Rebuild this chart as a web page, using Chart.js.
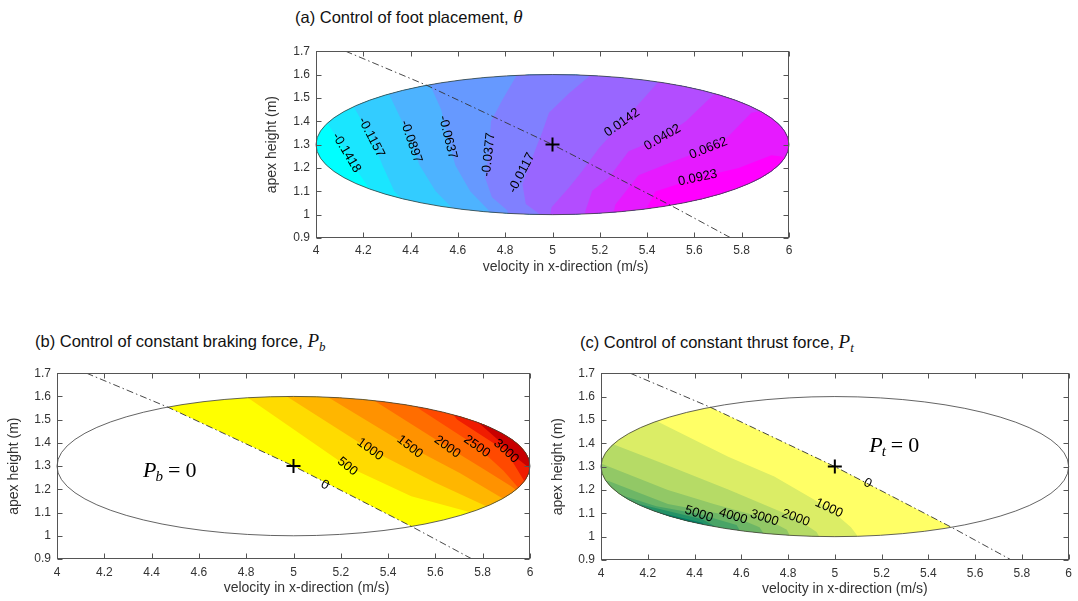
<!DOCTYPE html>
<html><head><meta charset="utf-8">
<script src="https://cdn.jsdelivr.net/npm/chart.js@4.4.1/dist/chart.umd.min.js"></script>
<style>
html,body{margin:0;padding:0;background:#fff;width:1078px;height:601px;overflow:hidden;font-family:"Liberation Sans",Arial,Helvetica,sans-serif;}
.box{position:absolute;}
.title{position:absolute;font-size:16.5px;line-height:20px;color:#111;white-space:nowrap;}
.m{font-family:"Liberation Serif","DejaVu Serif",serif;font-style:italic;font-size:19px;}
.m sub{font-size:13px;vertical-align:-4px;line-height:0;}
</style></head><body>
<div class="title" style="left:295px;top:7px">(a) Control of foot placement, <span class="m">θ</span></div>
<div class="title" style="left:35px;top:331px">(b) Control of constant braking force, <span class="m">P<sub>b</sub></span></div>
<div class="title" style="left:580px;top:332px">(c) Control of constant thrust force, <span class="m">P<sub>t</sub></span></div>
<div class="box" style="left:250px;top:38px"><canvas id="ca" width="553" height="245"></canvas></div>
<div class="box" style="left:0px;top:360px"><canvas id="cb" width="545" height="240"></canvas></div>
<div class="box" style="left:540px;top:360px"><canvas id="cc" width="538" height="240"></canvas></div>
<script>
// ---------- shared axes ----------
const xTickValues = [4, 4.2, 4.4, 4.6, 4.8, 5, 5.2, 5.4, 5.6, 5.8, 6];
const xTickLabels = ['4', '4.2', '4.4', '4.6', '4.8', '5', '5.2', '5.4', '5.6', '5.8', '6'];
const yTickValues = [0.9, 1.0, 1.1, 1.2, 1.3, 1.4, 1.5, 1.6, 1.7];
const yTickLabels = ['0.9', '1', '1.1', '1.2', '1.3', '1.4', '1.5', '1.6', '1.7'];
const xAxisTitle = 'velocity in x-direction (m/s)';
const yAxisTitle = 'apex height (m)';

// ---------- shared geometry (data units) ----------
const ellipseCenter = [5, 1.3];
const ellipseRadii = [1, 0.3];
const nominalPoint = [5, 1.3];
const boundaryLine = [[4.125, 1.70], [4.468, 1.554], [5.0, 1.30], [5.503, 1.038], [5.755, 0.90]];

// ---------- (a) foot placement theta ----------
const thetaLevels = ['-0.1418', '-0.1157', '-0.0897', '-0.0637', '-0.0377', '-0.0117', '0.0142', '0.0402', '0.0662', '0.0923'];
const thetaContours = [
  [[3.943, 1.50], [4.030, 1.42], [4.129, 1.265], [4.186, 1.17], [4.254, 1.07], [4.283, 0.95]],
  [[4.108, 1.56], [4.150, 1.478], [4.234, 1.331], [4.281, 1.212], [4.331, 1.10], [4.399, 1.03], [4.428, 0.95]],
  [[4.283, 1.58], [4.312, 1.509], [4.360, 1.408], [4.402, 1.313], [4.438, 1.212], [4.506, 1.10], [4.584, 1.02], [4.613, 0.95]],
  [[4.458, 1.62], [4.487, 1.546], [4.529, 1.45], [4.557, 1.331], [4.589, 1.212], [4.652, 1.10], [4.729, 1.02], [4.758, 0.95]],
  [[4.865, 1.66], [4.845, 1.591], [4.788, 1.492], [4.740, 1.40], [4.730, 1.257], [4.715, 1.158], [4.744, 1.074], [4.807, 1.02], [4.836, 0.95]],
  [[5.176, 1.65], [5.153, 1.591], [5.070, 1.52], [4.985, 1.436], [4.957, 1.355], [4.908, 1.228], [4.873, 1.13], [4.887, 1.046], [4.943, 1.004], [4.962, 0.95]],
  [[5.496, 1.62], [5.448, 1.569], [5.294, 1.394], [5.196, 1.284], [5.125, 1.186], [5.070, 1.116], [4.996, 1.032], [4.982, 0.95]],
  [[5.739, 1.56], [5.673, 1.506], [5.564, 1.40], [5.465, 1.331], [5.322, 1.271], [5.238, 1.158], [5.168, 1.102], [5.140, 1.018], [5.127, 0.95]],
  [[6.03, 1.47], [5.841, 1.436], [5.739, 1.33], [5.659, 1.284], [5.505, 1.225], [5.364, 1.169], [5.266, 1.043], [5.244, 0.95]],
  [[6.04, 1.24], [5.926, 1.254], [5.787, 1.20], [5.614, 1.158], [5.435, 1.099], [5.392, 1.015], [5.380, 0.95]]
];
const thetaLabelPos = [[4.129, 1.265], [4.234, 1.331], [4.402, 1.313], [4.557, 1.331], [4.730, 1.257], [4.870, 1.179], [5.294, 1.394], [5.465, 1.331], [5.659, 1.284], [5.614, 1.158]];
const thetaLabelAngle = [59, 63, 71, 76, -84, -63, -35, -30, -22, -12];
const thetaColors = ['#00ffff', '#1ae6ff', '#33ccff', '#4db3ff', '#6699ff', '#8080ff', '#9966ff', '#b34dff', '#cc33ff', '#e61aff', '#ff00ff'];

// ---------- (b) braking force Pb ----------
const brakeLevels = ['0', '500', '1000', '1500', '2000', '2500', '3000'];
const brakeContours = [
  [[4.709, 1.67], [4.804, 1.596], [5.228, 1.298], [5.498, 1.17], [5.752, 1.10], [5.839, 1.05]],
  [[4.894, 1.65], [4.972, 1.60], [5.324, 1.372], [5.596, 1.23], [5.820, 1.125], [5.888, 1.09]],
  [[5.080, 1.64], [5.157, 1.59], [5.492, 1.383], [5.703, 1.27], [5.878, 1.165], [5.937, 1.13]],
  [[5.274, 1.63], [5.352, 1.575], [5.650, 1.383], [5.800, 1.29], [5.917, 1.215], [5.966, 1.18]],
  [[5.469, 1.60], [5.537, 1.543], [5.775, 1.385], [5.888, 1.28], [5.956, 1.20], [6.02, 1.15]],
  [[5.644, 1.56], [5.693, 1.50], [5.899, 1.364], [5.937, 1.30], [5.985, 1.22], [6.05, 1.18]],
  [[5.720, 1.53], [5.785, 1.485], [5.880, 1.40], [5.950, 1.33], [6.05, 1.25]]
];
const brakeLabelPos = [[5.133, 1.218], [5.228, 1.298], [5.324, 1.372], [5.492, 1.383], [5.650, 1.383], [5.775, 1.385], [5.899, 1.364]];
const brakeLabelAngle = [28, 39, 36, 38, 36, 35, 43];
const brakeColors = ['#ffff00', '#ffdb00', '#ffb600', '#ff9200', '#ff6d00', '#ff4900', '#f01c00', '#c80000'];

// ---------- (c) thrust force Pt ----------
const thrustLevels = ['0', '1000', '2000', '3000', '4000', '5000'];
const thrustContours = [
  [[4.140, 1.56], [4.233, 1.497], [4.544, 1.342], [4.741, 1.258], [4.975, 1.122], [5.069, 1.04], [5.137, 0.95]],
  [[3.973, 1.44], [4.063, 1.391], [4.262, 1.314], [4.544, 1.202], [4.833, 1.080], [4.922, 1.02], [4.961, 0.95]],
  [[3.944, 1.34], [4.008, 1.31], [4.286, 1.20], [4.482, 1.14], [4.699, 1.080], [4.795, 1.03], [4.834, 0.95]],
  [[3.944, 1.26], [4.035, 1.237], [4.286, 1.14], [4.565, 1.087], [4.678, 1.04], [4.736, 0.95]],
  [[3.944, 1.21], [4.078, 1.181], [4.237, 1.13], [4.419, 1.097], [4.580, 1.05], [4.638, 0.95]],
  [[3.973, 1.17], [4.135, 1.146], [4.286, 1.11], [4.433, 1.075], [4.531, 1.02]],
  [[4.140, 1.12], [4.286, 1.095], [4.433, 1.06], [4.482, 1.0]]
];
const thrustLabelPos = [[5.140, 1.228], [4.975, 1.122], [4.833, 1.080], [4.699, 1.080], [4.565, 1.087], [4.419, 1.097]];
const thrustLabelAngle = [28, 25, 20, 18, 17, 18];
const thrustColors = ['#ffff66', '#dbed66', '#b6db66', '#92c866', '#6db666', '#49a466', '#249266', '#008066'];

// ---------- drawing ----------
const FONT = '"Liberation Sans", Arial, Helvetica, sans-serif';
const SERIF = '"Liberation Serif", "DejaVu Serif", serif';

function closeRight(pts) {
  const f = pts[0], l = pts[pts.length - 1];
  return pts.concat([[8, l[1]], [8, 2.6], [f[0], 2.6]]);
}
function closeLeft(pts) {
  const f = pts[0], l = pts[pts.length - 1];
  return pts.concat([[l[0], 0.3], [2, 0.3], [2, f[1]]]);
}
function bandDataset(poly, color) {
  return { data: poly.map(([x, y]) => ({ x, y })), bandFill: color, pointRadius: 0, showLine: false };
}

const contourPlugin = {
  id: 'contourPanel',
  beforeDatasetsDraw(chart) {
    const o = chart.options.plugins.contourPanel;
    const ctx = chart.ctx, xs = chart.scales.x, ys = chart.scales.y;
    const cx = xs.getPixelForValue(ellipseCenter[0]), cy = ys.getPixelForValue(ellipseCenter[1]);
    const rx = Math.abs(xs.getPixelForValue(ellipseCenter[0] + ellipseRadii[0]) - cx);
    const ry = Math.abs(ys.getPixelForValue(ellipseCenter[1] + ellipseRadii[1]) - cy);
    ctx.save();
    ctx.beginPath(); ctx.ellipse(cx, cy, rx, ry, 0, 0, Math.PI * 2);
    ctx.fillStyle = o.base; ctx.fill();
    ctx.clip();
    chart.data.datasets.forEach(ds => {
      if (!ds.bandFill) return;
      ctx.beginPath();
      ds.data.forEach((p, j) => {
        const px = xs.getPixelForValue(p.x), py = ys.getPixelForValue(p.y);
        j ? ctx.lineTo(px, py) : ctx.moveTo(px, py);
      });
      ctx.closePath();
      ctx.fillStyle = ds.bandFill;
      ctx.fill();
    });
    ctx.restore();
    ctx.save();
    ctx.beginPath(); ctx.ellipse(cx, cy, rx, ry, 0, 0, Math.PI * 2);
    ctx.strokeStyle = '#3c3c3c'; ctx.lineWidth = 0.8; ctx.stroke();
    ctx.restore();
  },
  afterDatasetsDraw(chart) {
    const o = chart.options.plugins.contourPanel;
    const ctx = chart.ctx, xs = chart.scales.x, ys = chart.scales.y;
    ctx.save();
    ctx.fillStyle = '#000';
    ctx.font = '13px ' + FONT;
    ctx.textAlign = 'center'; ctx.textBaseline = 'middle';
    o.labels.forEach((t, i) => {
      const px = xs.getPixelForValue(o.labelPos[i][0]), py = ys.getPixelForValue(o.labelPos[i][1]);
      ctx.save(); ctx.translate(px, py); ctx.rotate(o.labelAngle[i] * Math.PI / 180);
      ctx.fillText(t, 0, 0); ctx.restore();
    });
    if (o.note) {
      let px = xs.getPixelForValue(o.note.x), py = ys.getPixelForValue(o.note.y);
      ctx.textAlign = 'left'; ctx.textBaseline = 'alphabetic';
      ctx.font = 'italic 22px ' + SERIF; ctx.fillText('P', px, py);
      px += ctx.measureText('P').width - 1;
      ctx.font = 'italic 15px ' + SERIF; ctx.fillText(o.note.sub, px, py + 4);
      px += ctx.measureText(o.note.sub).width + 5;
      ctx.font = '22px ' + SERIF; ctx.fillText('=', px, py);
      px += ctx.measureText('=').width + 5;
      ctx.fillText('0', px, py);
    }
    ctx.restore();
  },
  afterDraw(chart) {
    const o = chart.options.plugins.contourPanel;
    const ctx = chart.ctx, xs = chart.scales.x, ys = chart.scales.y;
    const a = chart.chartArea;
    const L = Math.round(a.left) + 0.5, R = Math.round(a.right) - 0.5, T = Math.round(a.top) + 0.5, B = Math.round(a.bottom) - 0.5;
    ctx.save();
    ctx.strokeStyle = '#555'; ctx.lineWidth = 1;
    ctx.strokeRect(L, T, R - L, B - T);
    ctx.beginPath();
    xTickValues.forEach(v => {
      const px = Math.round(xs.getPixelForValue(v)) + 0.5;
      ctx.moveTo(px, B); ctx.lineTo(px, B - 5);
      ctx.moveTo(px, T); ctx.lineTo(px, T + 5);
    });
    yTickValues.forEach(v => {
      const py = Math.round(ys.getPixelForValue(v)) + 0.5;
      ctx.moveTo(L, py); ctx.lineTo(L + 5, py);
      ctx.moveTo(R, py); ctx.lineTo(R - 5, py);
    });
    ctx.stroke();
    // x-axis title
    ctx.fillStyle = '#333';
    ctx.font = '14px ' + FONT;
    ctx.textAlign = 'center'; ctx.textBaseline = 'middle';
    ctx.fillText(xAxisTitle, (a.left + a.right) / 2 + o.xtOff, a.bottom + 29);
    ctx.restore();
  }
};

function makeChart(id, f, bands, base, labels, labelPos, labelAngle, note) {
  const datasets = bands.map(b => bandDataset(b.poly, b.color));
  datasets.unshift({
    data: boundaryLine.map(([x, y]) => ({ x, y })), showLine: true, fill: false,
    borderColor: '#333', borderWidth: 0.9, borderDash: [7, 3, 1.5, 3], pointRadius: 0, tension: 0
  });
  datasets.unshift({
    data: [{ x: nominalPoint[0], y: nominalPoint[1] }], pointStyle: 'cross', pointRadius: 7,
    borderColor: '#000', borderWidth: 2, backgroundColor: '#000', showLine: false
  });
  return new Chart(document.getElementById(id), {
    type: 'scatter',
    data: { datasets },
    options: {
      responsive: false, animation: false, devicePixelRatio: 1, events: [],
      layout: { padding: { top: f.pt, right: f.pr, left: 0, bottom: 0 } },
      plugins: {
        legend: { display: false }, tooltip: { enabled: false },
        contourPanel: { base, labels, labelPos, labelAngle, note, xtOff: f.xtOff }
      },
      scales: {
        x: {
          type: 'linear', min: 4, max: 6,
          afterBuildTicks: s => { s.ticks = xTickValues.map(v => ({ value: v })); },
          afterFit: s => { s.height = f.xh; },
          ticks: { autoSkip: false, maxRotation: 0, minRotation: 0, padding: f.xtp, color: '#333',
            font: { family: FONT, size: 12 }, callback: (v, i) => xTickLabels[i] },
          grid: { display: false, drawTicks: false }, border: { display: false },
          title: { display: false }
        },
        y: {
          type: 'linear', min: 0.9, max: 1.7,
          afterBuildTicks: s => { s.ticks = yTickValues.map(v => ({ value: v })); },
          afterFit: s => { s.width = f.yw; },
          ticks: { autoSkip: false, padding: 6, color: '#333',
            font: { family: FONT, size: 12 }, callback: (v, i) => yTickLabels[i] },
          grid: { display: false, drawTicks: false }, border: { display: false },
          title: { display: true, text: yAxisTitle, color: '#333', font: { family: FONT, size: 14, lineHeight: 1.2 },
            padding: { top: f.ytp, bottom: 0 } }
        }
      }
    },
    plugins: [contourPlugin]
  });
}

// (a)
const bandsA = thetaContours.map((c, i) => ({ poly: closeRight(c), color: thetaColors[i + 1] }));
makeChart('ca', { pt: 10, pr: 14, xh: 45, yw: 66, xtp: 5.5, ytp: 13.5, xtOff: 13 }, bandsA, thetaColors[0],
  thetaLevels, thetaLabelPos, thetaLabelAngle, null);

// (b)
const bandsB = [{ poly: closeRight(boundaryLine), color: brakeColors[0] }]
  .concat(brakeContours.map((c, i) => ({ poly: closeRight(c), color: brakeColors[i + 1] })));
makeChart('cb', { pt: 9, pr: 15, xh: 41, yw: 57, xtp: 6, ytp: 5.5, xtOff: 13 }, bandsB, '#ffffff',
  brakeLevels, brakeLabelPos, brakeLabelAngle, { x: 4.364, y: 1.252, sub: 'b' });

// (c)
const bandsC = [{ poly: closeLeft(boundaryLine), color: thrustColors[0] }]
  .concat(thrustContours.map((c, i) => ({ poly: closeLeft(c), color: thrustColors[i + 1] })));
makeChart('cc', { pt: 11, pr: 5, xh: 40, yw: 61, xtp: 6, ytp: 9.5, xtOff: 10 }, bandsC, '#ffffff',
  thrustLevels, thrustLabelPos, thrustLabelAngle, { x: 5.147, y: 1.364, sub: 't' });
</script>
</body></html>
